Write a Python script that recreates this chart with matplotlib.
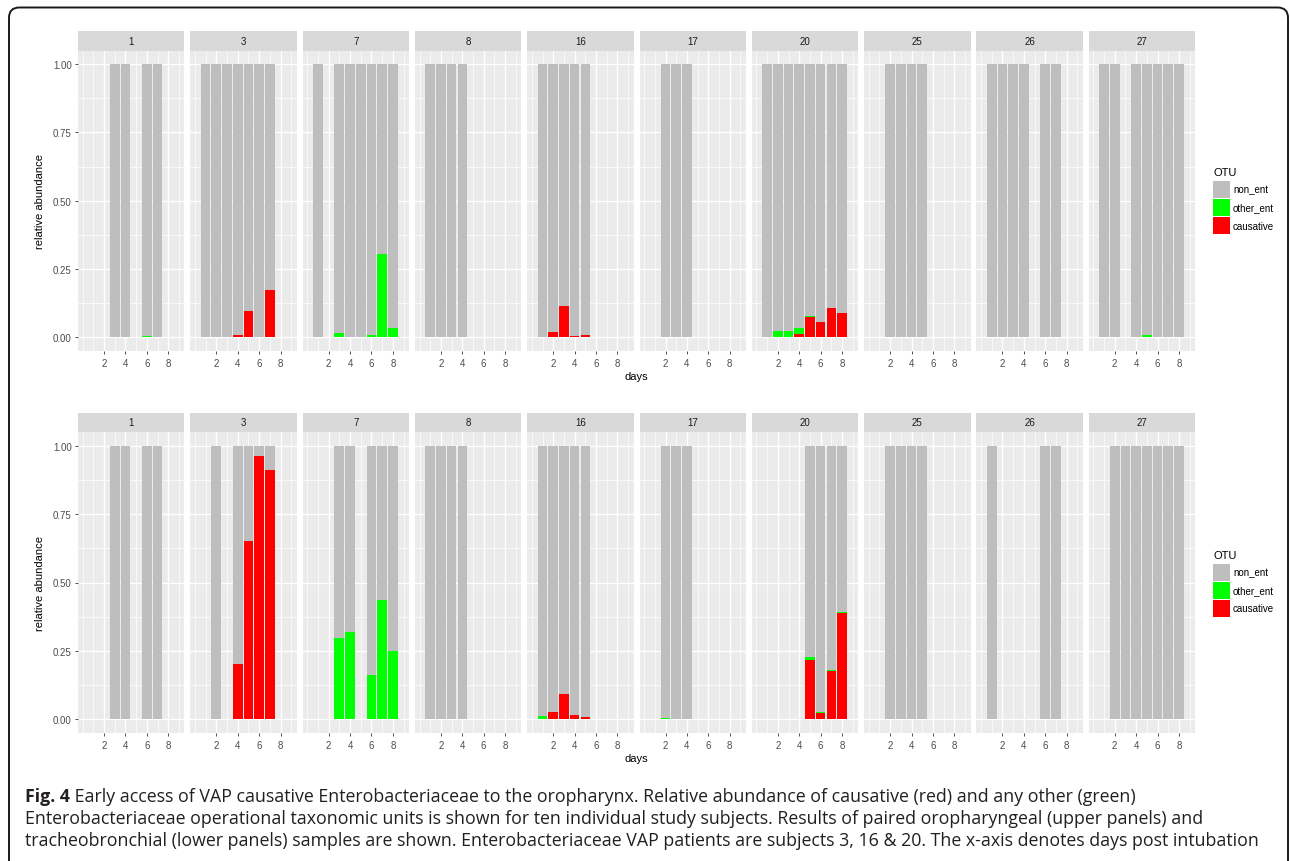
import matplotlib
matplotlib.use("Agg")
import matplotlib.pyplot as plt
from matplotlib.patches import Rectangle, FancyBboxPatch
import numpy as np

plt.rcParams["font.family"] = ["Liberation Sans", "DejaVu Sans"]

subjects = [1, 3, 7, 8, 16, 17, 20, 25, 26, 27]

# upper panels: oropharyngeal samples
oro_days = [
    [3, 4, 6, 7],
    [1, 2, 3, 4, 5, 6, 7],
    [1, 3, 4, 5, 6, 7, 8],
    [1, 2, 3, 4],
    [1, 2, 3, 4, 5],
    [2, 3, 4],
    [1, 2, 3, 4, 5, 6, 7, 8],
    [2, 3, 4, 5],
    [1, 2, 3, 4, 6, 7],
    [1, 2, 4, 5, 6, 7, 8],
]
oro_causative = [
    [0, 0, 0, 0],
    [0, 0, 0, 0.010, 0.098, 0, 0.173],
    [0, 0, 0, 0, 0, 0, 0],
    [0, 0, 0, 0],
    [0, 0.019, 0.114, 0.005, 0.008],
    [0, 0, 0],
    [0, 0, 0, 0.011, 0.075, 0.056, 0.108, 0.090],
    [0, 0, 0, 0],
    [0, 0, 0, 0, 0, 0],
    [0, 0, 0, 0, 0, 0, 0],
]
oro_other = [
    [0, 0, 0.004, 0],
    [0, 0, 0, 0, 0, 0, 0],
    [0, 0.016, 0.003, 0.003, 0.008, 0.306, 0.033],
    [0, 0, 0, 0],
    [0, 0, 0, 0, 0],
    [0, 0, 0],
    [0, 0.024, 0.024, 0.023, 0.004, 0, 0, 0],
    [0, 0, 0, 0],
    [0, 0, 0, 0, 0, 0],
    [0, 0, 0, 0.007, 0, 0, 0],
]

# lower panels: tracheobronchial samples
tra_days = [
    [3, 4, 6, 7],
    [2, 4, 5, 6, 7],
    [3, 4, 6, 7, 8],
    [1, 2, 3, 4],
    [1, 2, 3, 4, 5],
    [2, 3, 4],
    [5, 6, 7, 8],
    [2, 3, 4, 5],
    [1, 6, 7],
    [2, 3, 4, 5, 6, 7, 8],
]
tra_causative = [
    [0, 0, 0, 0],
    [0, 0.203, 0.653, 0.963, 0.910],
    [0, 0, 0, 0, 0],
    [0, 0, 0, 0],
    [0, 0.026, 0.091, 0.017, 0.007],
    [0, 0, 0],
    [0.218, 0.023, 0.177, 0.389],
    [0, 0, 0, 0],
    [0, 0, 0],
    [0, 0, 0, 0, 0, 0, 0],
]
tra_other = [
    [0, 0, 0, 0],
    [0, 0, 0, 0, 0],
    [0.297, 0.318, 0.161, 0.435, 0.248],
    [0, 0, 0, 0],
    [0.011, 0, 0, 0, 0],
    [0.003, 0, 0],
    [0.009, 0.002, 0.003, 0.003],
    [0, 0, 0, 0],
    [0, 0, 0],
    [0, 0, 0, 0, 0, 0, 0],
]

otu_labels = ["non_ent", "other_ent", "causative"]
otu_colors = ["#BEBEBE", "#00FF00", "#FF0000"]

W, H = 1290, 862
fig = plt.figure(figsize=(W / 100, H / 100), dpi=100)


def fx(x):
    return x / W


def fy(y):
    return 1 - y / H


def draw_row(panel_top, panel_bot, strip_top, days, causative, other, label_y, legend_y):
    left0, step, width = 78, 112.3, 106.5
    for i, subj in enumerate(subjects):
        x0 = left0 + i * step
        ax = fig.add_axes([fx(x0), fy(panel_bot), width / W, (panel_bot - panel_top) / H])
        ax.set_facecolor("#EBEBEB")
        ax.set_xlim(-0.43, 9.52)
        ax.set_ylim(-0.05, 1.05)
        for v in [0, 1, 3, 5, 7, 9]:
            ax.axvline(v, color="white", lw=0.5, zorder=0)
        for v in [2, 4, 6, 8]:
            ax.axvline(v, color="white", lw=1.0, zorder=0)
        for v in [0.125, 0.375, 0.625, 0.875]:
            ax.axhline(v, color="white", lw=0.5, zorder=0)
        for v in [0, 0.25, 0.5, 0.75, 1.0]:
            ax.axhline(v, color="white", lw=1.0, zorder=0)

        d = np.array(days[i], dtype=float)
        c = np.array(causative[i])
        o = np.array(other[i])
        n = 1 - c - o
        ax.bar(d, c, width=0.9, color=otu_colors[2], zorder=2)
        ax.bar(d, o, width=0.9, bottom=c, color=otu_colors[1], zorder=2)
        ax.bar(d, n, width=0.9, bottom=c + o, color=otu_colors[0], zorder=2)

        for s in ax.spines.values():
            s.set_visible(False)
        ax.set_xticks([2, 4, 6, 8])
        ax.set_xticklabels(["2", "4", "6", "8"], fontsize=7, color="#4D4D4D")
        ax.tick_params(axis="x", length=2.5, width=0.6, color="#333333", pad=2.5)
        if i == 0:
            ax.set_yticks([0, 0.25, 0.5, 0.75, 1.0])
            ax.set_yticklabels(["0.00", "0.25", "0.50", "0.75", "1.00"], fontsize=7, color="#4D4D4D")
            ax.tick_params(axis="y", length=2.5, width=0.6, color="#333333", pad=2)
        else:
            ax.set_yticks([])

        sax = fig.add_axes([fx(x0), fy(panel_top), width / W, (panel_top - strip_top) / H])
        sax.set_facecolor("#D9D9D9")
        sax.set_xticks([])
        sax.set_yticks([])
        for s in sax.spines.values():
            s.set_visible(False)
        sax.text(0.5, 0.5, str(subj), ha="center", va="center", fontsize=7,
                 color="#1A1A1A", transform=sax.transAxes)

    fig.text(fx(40), fy((panel_top + panel_bot) / 2), "relative abundance", rotation=90,
             ha="center", va="center", fontsize=8, color="black")
    fig.text(fx(636), fy(label_y), "days", ha="center", va="center", fontsize=8, color="black")

    # legend
    fig.text(fx(1213), fy(legend_y), "OTU", ha="left", va="center", fontsize=8)
    for k, (lab, col) in enumerate(zip(otu_labels, otu_colors)):
        ky = legend_y + 9 + k * 18
        fig.add_artist(Rectangle((fx(1213), fy(ky + 17)), 17 / W, 17 / H,
                                 transform=fig.transFigure, color=col, lw=0))
        fig.text(fx(1233), fy(ky + 8.5), lab, ha="left", va="center", fontsize=7, color="black")


draw_row(51.5, 352, 32, oro_days, oro_causative, oro_other, 377, 173)
draw_row(433, 734, 414, tra_days, tra_causative, tra_other, 759, 556)

# rounded frame around the figure
frame = FancyBboxPatch((fx(9), fy(900)), (1288 - 9) / W, (900 - 8.5) / H,
                       boxstyle="round,pad=0,rounding_size=0.008",
                       transform=fig.transFigure, fill=False, ec="#1A1A1A", lw=1.4,
                       mutation_aspect=W / H, clip_on=False)
fig.add_artist(frame)

caption = [
    ("Fig. 4", " Early access of VAP causative Enterobacteriaceae to the oropharynx. Relative abundance of causative (red) and any other (green)"),
    ("", "Enterobacteriaceae operational taxonomic units is shown for ten individual study subjects. Results of paired oropharyngeal (upper panels) and"),
    ("", "tracheobronchial (lower panels) samples are shown. Enterobacteriaceae VAP patients are subjects 3, 16 & 20. The x-axis denotes days post intubation"),
]
renderer = fig.canvas.get_renderer()
for j, (bold, rest) in enumerate(caption):
    y = fy(797 + j * 22)
    x = fx(25)
    if bold:
        t = fig.text(x, y, bold, fontsize=12.8, fontweight="bold", family=["Open Sans", "DejaVu Sans"],
                     ha="left", va="center", color="#231F20")
        bb = t.get_window_extent(renderer)
        x = bb.x1 / W
    fig.text(x, y, rest, fontsize=12.8, family=["Open Sans", "DejaVu Sans"],
             ha="left", va="center", color="#231F20")

fig.savefig("out.png", dpi=100)
